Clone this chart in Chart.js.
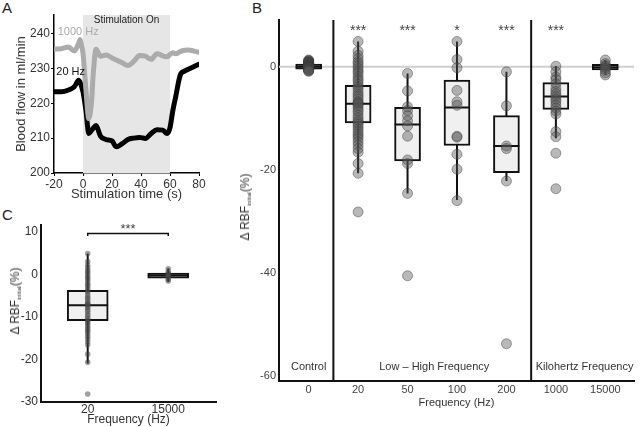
<!DOCTYPE html>
<html>
<head>
<meta charset="utf-8">
<script src="https://cdn.jsdelivr.net/npm/chart.js@4.4.1/dist/chart.umd.min.js"></script>
<style>
  body { margin: 0; width: 640px; height: 427px; background: #fff; position: relative; overflow: hidden;
         font-family: "Liberation Sans", Arial, sans-serif; }
  canvas { position: absolute; }
  .panel { position: absolute; font-size: 15px; line-height: 15px; color: #222; }
  .ytitle { position: absolute; font-size: 12px; color: #333; white-space: nowrap;
            transform: translate(-50%, -50%) rotate(-90deg); }
  .ytitle sub { font-size: 6px; vertical-align: -2px; }
</style>
</head>
<body>
<div class="panel" style="left:2px;top:0px">A</div>
<div class="panel" style="left:252px;top:0px">B</div>
<div class="panel" style="left:2px;top:207px">C</div>
<canvas id="chartA" width="220" height="210" style="left:0;top:0"></canvas>
<canvas id="chartB" width="410" height="427" style="left:230px;top:0"></canvas>
<canvas id="chartC" width="220" height="227" style="left:0;top:200px"></canvas>
<div class="ytitle" style="left:245px;top:207px">Δ RBF<sub>initial</sub>(%)</div>
<div class="ytitle" style="left:15px;top:301px">Δ RBF<sub>initial</sub>(%)</div>
<script>
// ---- Panel A: blood flow over time ----
const timeA = [-20,-15,-10,-6,-3,-2,-1,0,2,4,6,7,9,12,16,20,23,27,31,35,39,43,47,51,55,58,60,62,64,67,70,73,76,80];
const flow1000 = [235.5,235.6,236.1,235.0,237.2,238.3,236.5,234.3,224.0,215.6,221.0,228.0,235.5,233.5,233.8,233.0,232.4,231.6,230.8,232.0,233.7,233.5,232.6,234.2,233.6,233.3,234.0,234.5,234.2,234.8,235.2,235.3,235.0,234.6];
const flow20 = [223.3,223.3,223.8,224.7,226.6,226.0,224.8,223.3,218.0,211.3,212.3,212.8,213.6,210.6,209.6,209.2,207.5,208.4,209.6,210.0,210.2,209.9,211.3,212.4,212.3,211.3,213.0,218.0,222.0,228.0,229.2,229.8,230.4,231.2];
const stimWindow = [0, 60];
const ticksAx = [-20, 0, 20, 40, 60, 80];
const ticksAy = [200, 210, 220, 230, 240];

// ---- Panel B: change in RBF by frequency ----
const freqB = ['0', '20', '50', '100', '200', '1000', '15000'];
const q1B  = [-0.5, -10.9, -18.3, -15.3, -20.6, -8.3, -0.6];
const medB = [0.0, -7.2, -11.2, -7.9, -15.4, -5.8, -0.1];
const q3B  = [0.5, -3.6, -7.9, -2.6, -9.5, -3.1, 0.45];
const loB  = [-0.9, -20.7, -24.6, -25.9, -22.2, -13.9, -1.6];
const hiB  = [1.3, 4.9, -1.3, 4.9, -1.0, 0.1, 1.3];
const pts0 = [1.3, 1.2, 1.1, 1.0, 0.9, 0.85, 0.8, 0.7, 0.65, 0.6, 0.5, 0.45, 0.4, 0.35, 0.3, 0.25, 0.2, 0.15, 0.1, 0.1, 0.05,
              0, 0, 0, -0.05, -0.1, -0.1, -0.15, -0.2, -0.25, -0.3, -0.35, -0.4, -0.45, -0.5, -0.55, -0.6, -0.7, -0.8, -0.9];
const pts20 = [4.9, 3.0, 2.2, 1.6, 1.0, 0.6, 0.1, -0.4, -0.9, -1.3, -1.9, -2.4, -2.8, -3.4, -3.9, -4.3, -4.9, -5.4, -5.8, -6.3, -6.8, -7.0, -7.2, -7.5, -7.9, -8.4, -8.8, -9.4, -9.9, -10.4, -10.8, -11.2, -11.6, -12.1, -12.6, -13.1, -13.5, -14.0, -14.6, -15.2, -15.9, -16.6, -18.8, -20.7, -28.2];
const pts50 = [-1.3, -4.7, -7.8, -8.5, -9.5, -10.5, -11.5, -13.5, -18.1, -18.8, -24.6, -40.6];
const pts100 = [4.9, 1.4, -0.2, -4.6, -6.8, -7.5, -13.5, -13.7, -17.0, -19.9, -26.0];
const pts200 = [-1.0, -7.6, -15.4, -15.9, -22.2, -53.8];
const pts1000 = [0.1, -1.0, -2.0, -2.5, -3.3, -4.2, -4.8, -5.3, -5.8, -6.3, -6.8, -7.4, -8.0, -8.6, -9.2, -12.6, -13.6, -16.8, -23.7];
const pts15000 = [1.3, 0.6, 0.2, 0.0, -0.3, -0.7, -1.2, -1.6];
const starsB = ['', '***', '***', '*', '***', '***', ''];
const groupsB = ['Control', 'Low \u2013 High Frequency', 'Kilohertz Frequency'];
const ticksBy = [0, -20, -40, -60];

// ---- Panel C: 20 Hz vs 15000 Hz ----
const freqC = ['20', '15000'];
const q1C  = [-10.9, -0.9];
const medC = [-7.3, -0.3];
const q3C  = [-3.8, 0.3];
const loC  = [-21.0, -1.8];
const hiC  = [4.9, 1.4];
const starsC = '***';
const ticksCy = [10, 0, -10, -20, -30];

Chart.defaults.font.family = "'Liberation Sans', Arial, sans-serif";
Chart.defaults.color = '#333';
Chart.defaults.animation = false;

// text labels placed in data units
const notesPlugin = {
  id: 'notes',
  afterDatasetsDraw(chart, args, opts) {
    const {ctx, scales: {x, y}} = chart;
    ctx.save();
    for (const it of opts.items || []) {
      ctx.font = it.font;
      ctx.fillStyle = it.color || '#333';
      ctx.textAlign = 'center';
      ctx.textBaseline = 'middle';
      ctx.fillText(it.text, x.getPixelForValue(it.x), y.getPixelForValue(it.y));
    }
    ctx.restore();
  }
};

// grey band for the stimulation window
const bandPlugin = {
  id: 'band',
  beforeDatasetsDraw(chart, args, opts) {
    if (!opts.range) return;
    const {ctx, chartArea, scales: {x}} = chart;
    const x0 = x.getPixelForValue(opts.range[0]);
    const x1 = x.getPixelForValue(opts.range[1]);
    ctx.save();
    ctx.fillStyle = opts.color;
    ctx.fillRect(x0, chartArea.top, x1 - x0, chartArea.bottom - chartArea.top);
    ctx.restore();
  }
};

function boxSets(q1, med, q3, lo, hi, groups, half, thick, dot) {
  const whisk = [], mids = [], dots = [];
  q1.forEach((v, i) => {
    whisk.push({x: i, y: lo[i]}, {x: i, y: hi[i]}, {x: i, y: null});
    mids.push({x: i - half, y: med[i]}, {x: i + half, y: med[i]}, {x: i, y: null});
  });
  groups.forEach((arr, i) => arr.forEach(v => dots.push({x: i, y: v})));
  return [
    {type: 'line', data: whisk, borderColor: '#111', borderWidth: 2, pointRadius: 0, spanGaps: false, order: 6},
    {type: 'bar', data: q1.map((v, i) => ({x: i, y: [v, q3[i]]})), backgroundColor: '#f0f0f0',
     borderColor: '#111', borderWidth: 2, borderSkipped: false, barThickness: thick, order: 5},
    {type: 'line', data: mids, borderColor: '#111', borderWidth: 2, pointRadius: 0, spanGaps: false, order: 4},
    {type: 'scatter', data: dots, pointRadius: dot.r, backgroundColor: dot.fill, borderColor: dot.line,
     borderWidth: dot.bw, order: 2}
  ];
}

const fixW = w => s => { s.width = w; };
const fixH = h => s => { s.height = h; };

// ---------- A ----------
new Chart(document.getElementById('chartA'), {
  type: 'scatter',
  data: {
    datasets: [
      {type: 'line', data: timeA.map((t, i) => ({x: t, y: flow1000[i]})), borderColor: '#ababab',
       borderWidth: 5, pointRadius: 0, cubicInterpolationMode: 'monotone', borderCapStyle: 'round'},
      {type: 'line', data: timeA.map((t, i) => ({x: t, y: flow20[i]})), borderColor: '#000',
       borderWidth: 5, pointRadius: 0, cubicInterpolationMode: 'monotone', borderCapStyle: 'round'}
    ]
  },
  options: {
    responsive: false,
    layout: {padding: {top: 15, right: 21, left: 0, bottom: 0}},
    plugins: {
      legend: {display: false}, tooltip: {enabled: false},
      band: {range: stimWindow, color: '#e6e6e6'},
      notes: {items: [
        {text: 'Stimulation On', x: 30, y: 243.9, font: '10px "Liberation Sans", Arial', color: '#222'},
        {text: '1000 Hz', x: -3.3, y: 240.3, font: '11px "Liberation Sans", Arial', color: '#ababab'},
        {text: '20 Hz', x: -8.5, y: 229, font: '11px "Liberation Sans", Arial', color: '#111'}
      ]}
    },
    scales: {
      x: {type: 'linear', min: -20, max: 80, offset: false,
          afterBuildTicks: s => { s.ticks = ticksAx.map(v => ({value: v})); },
          afterFit: fixH(37),
          grid: {display: true, drawOnChartArea: false, drawTicks: true, tickLength: 3, color: '#000'},
          border: {display: true, color: '#000', width: 1.5},
          ticks: {font: {size: 12}, color: '#333', padding: 1, maxRotation: 0},
          title: {display: true, text: 'Stimulation time (s)', font: {size: 13}, color: '#333', padding: {top: 0, bottom: 8}}},
      y: {type: 'linear', min: 200, max: 245.3,
          afterBuildTicks: s => { s.ticks = ticksAy.map(v => ({value: v})); },
          afterFit: fixW(54),
          grid: {display: true, drawOnChartArea: false, drawTicks: true, tickLength: 3, color: '#000'},
          border: {display: true, color: '#000', width: 1.5},
          ticks: {font: {size: 12}, color: '#333', padding: 1},
          title: {display: true, text: 'Blood flow in ml/min', font: {size: 13}, color: '#333', padding: {top: 14, bottom: 0}}}
    }
  },
  plugins: [bandPlugin, notesPlugin]
});

// ---------- B ----------
const yMinB = -61.03, yMaxB = 9.07, xMinB = -0.6, xMaxB = 6.58;
const setsB = boxSets(q1B, medB, q3B, loB, hiB,
  [pts0, pts20, pts50, pts100, pts200, pts1000, pts15000], 0.26, 26,
  {r: 5, fill: 'rgba(85,85,85,0.42)', line: 'rgba(60,60,60,0.45)', bw: 1});
setsB.push(
  {type: 'line', data: [{x: xMinB, y: 0}, {x: xMaxB, y: 0}], borderColor: '#cfcfcf', borderWidth: 2,
   pointRadius: 0, order: 9},
  {type: 'line', data: [{x: 0.5, y: yMinB}, {x: 0.5, y: yMaxB}, {x: 0.5, y: null}, {x: 4.5, y: yMinB}, {x: 4.5, y: yMaxB}],
   borderColor: '#111', borderWidth: 2, pointRadius: 0, spanGaps: false, order: 1}
);
const notesB = starsB.map((s, i) => ({text: s, x: i, y: 7.0, font: '14px "Liberation Sans", Arial', color: '#444'}));
const groupX = [0, 2.54, 5.58];
groupsB.forEach((g, i) => notesB.push({text: g, x: groupX[i], y: -58.3, font: '11px "Liberation Sans", Arial', color: '#333'}));

new Chart(document.getElementById('chartB'), {
  type: 'scatter',
  data: {datasets: setsB},
  options: {
    responsive: false,
    layout: {padding: {top: 20, right: 2, left: 0, bottom: 0}},
    plugins: {legend: {display: false}, tooltip: {enabled: false}, notes: {items: notesB}},
    scales: {
      x: {type: 'linear', min: xMinB, max: xMaxB, offset: false,
          afterBuildTicks: s => { s.ticks = freqB.map((f, i) => ({value: i})); },
          afterFit: fixH(46),
          grid: {display: false, drawTicks: false},
          border: {display: true, color: '#111', width: 2},
          ticks: {font: {size: 11}, color: '#444', padding: 2, maxRotation: 0, callback: v => freqB[v]},
          title: {display: true, text: 'Frequency (Hz)', font: {size: 11}, color: '#333', padding: {top: 0, bottom: 17}}},
      y: {type: 'linear', min: yMinB, max: yMaxB,
          afterBuildTicks: s => { s.ticks = ticksBy.map(v => ({value: v})); },
          afterFit: fixW(49),
          grid: {display: false, drawTicks: false},
          border: {display: true, color: '#111', width: 2},
          ticks: {font: {size: 11}, color: '#444', padding: 3}}
    }
  },
  plugins: [notesPlugin]
});

// ---------- C ----------
const setsC = boxSets(q1C, medC, q3C, loC, hiC, [pts20, pts15000], 0.253, 41,
  {r: 2.8, fill: 'rgba(70,70,70,0.5)', line: 'rgba(70,70,70,0)', bw: 0});
setsC.push({type: 'line', data: [{x: 0, y: 9.0}, {x: 0, y: 9.62}, {x: 1, y: 9.62}, {x: 1, y: 9.0}],
  borderColor: '#111', borderWidth: 1.5, pointRadius: 0, order: 1});

new Chart(document.getElementById('chartC'), {
  type: 'scatter',
  data: {datasets: setsC},
  options: {
    responsive: false,
    layout: {padding: {top: 25, right: 3, left: 0, bottom: 0}},
    plugins: {legend: {display: false}, tooltip: {enabled: false},
      notes: {items: [{text: starsC, x: 0.5, y: 10.5, font: '13px "Liberation Sans", Arial', color: '#444'}]}},
    scales: {
      x: {type: 'linear', min: -0.58, max: 1.593, offset: false,
          afterBuildTicks: s => { s.ticks = freqC.map((f, i) => ({value: i})); },
          afterFit: fixH(25.3),
          grid: {display: false, drawTicks: false},
          border: {display: true, color: '#111', width: 2},
          ticks: {font: {size: 12}, color: '#333', padding: 1, maxRotation: 0, callback: v => freqC[v]},
          title: {display: true, text: 'Frequency (Hz)', font: {size: 12}, color: '#333', padding: {top: 0, bottom: 0}}},
      y: {type: 'linear', min: -30, max: 11.6,
          afterBuildTicks: s => { s.ticks = ticksCy.map(v => ({value: v})); },
          afterFit: fixW(41),
          grid: {display: false, drawTicks: false},
          border: {display: true, color: '#111', width: 2},
          ticks: {font: {size: 12}, color: '#333', padding: 3}}
    }
  },
  plugins: [notesPlugin]
});
</script>
</body>
</html>
